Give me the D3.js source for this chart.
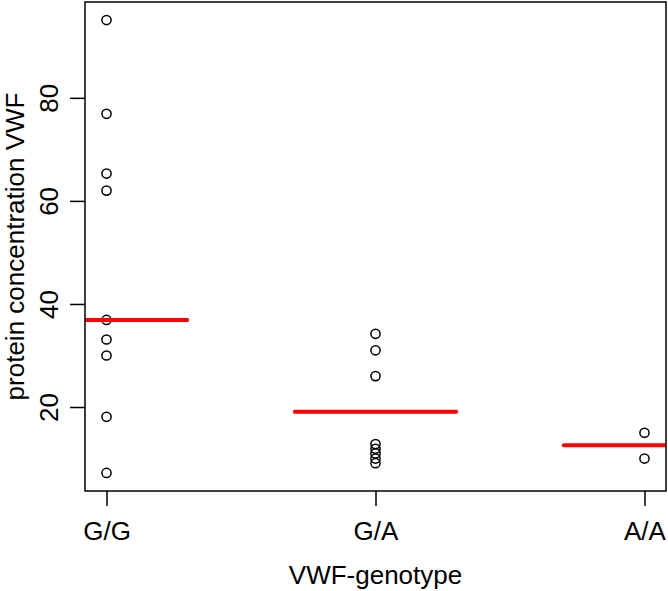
<!DOCTYPE html>
<html>
<head>
<meta charset="utf-8">
<script src="https://cdn.jsdelivr.net/npm/d3@7"></script>
<style>
  html, body { margin: 0; padding: 0; background: #fff; }
  svg { display: block; }
  text { font-family: "Liberation Sans", Arial, sans-serif; fill: #000; }
</style>
</head>
<body>
<svg id="chart" width="668" height="591"></svg>
<script>
// Data
const categories = ["G/G", "G/A", "A/A"];
const ggValues = [95.1, 76.9, 65.3, 62.0, 36.9, 33.1, 30.0, 18.1, 7.2];
const gaValues = [34.2, 31.0, 26.0, 12.8, 11.9, 11.0, 10.0, 9.1];
const aaValues = [15.0, 10.0];
const groupValues = [ggValues, gaValues, aaValues];
const summaryLines = [36.9, 19.1, 12.6];
const yTicks = [20, 40, 60, 80];

const svg = d3.select("#chart");
const L = 85, R = 666, T = 2, B = 491;
const fontSize = 26;

const x = d3.scaleLinear().domain([0.92, 3.08]).range([L, R]);
const y = d3.scaleLinear().domain([3.7, 98.6]).range([B, T]);

svg.append("defs").append("clipPath").attr("id", "plotclip")
  .append("rect").attr("x", L).attr("y", T).attr("width", R - L).attr("height", B - T);

// Points
const pts = [];
groupValues.forEach((vals, i) => vals.forEach(v => pts.push({ g: i + 1, v })));
svg.append("g").selectAll("circle").data(pts).join("circle")
  .attr("cx", d => x(d.g)).attr("cy", d => y(d.v)).attr("r", 4.6)
  .attr("fill", "none").attr("stroke", "#000").attr("stroke-width", 1.5);

// Red summary lines
svg.append("g").attr("clip-path", "url(#plotclip)")
  .selectAll("line").data(summaryLines).join("line")
  .attr("x1", (d, i) => x(i + 1 - 0.3)).attr("x2", (d, i) => x(i + 1 + 0.3))
  .attr("y1", d => y(d)).attr("y2", d => y(d))
  .attr("stroke", "#ff0000").attr("stroke-width", 4).attr("stroke-linecap", "round");

// Box
svg.append("rect").attr("x", L).attr("y", T).attr("width", R - L).attr("height", B - T)
  .attr("fill", "none").attr("stroke", "#000").attr("stroke-width", 1.5);

// Y axis
const yAxis = d3.axisLeft(y).tickValues(yTicks).tickSize(15).tickPadding(12).tickFormat(d3.format("d"));
const gy = svg.append("g").attr("transform", `translate(${L},0)`).call(yAxis);
gy.select(".domain").remove();
gy.selectAll(".tick line").attr("stroke", "#000").attr("stroke-width", 1.5);
gy.selectAll(".tick text")
  .attr("font-size", fontSize).attr("font-family", null)
  .attr("x", null).attr("dy", null)
  .attr("text-anchor", "middle")
  .attr("transform", "translate(-27,0) rotate(-90)");

// X axis
const xAxis = d3.axisBottom(x).tickValues([1, 2, 3]).tickSize(15).tickPadding(14)
  .tickFormat(d => categories[d - 1]);
const gx = svg.append("g").attr("transform", `translate(0,${B})`).call(xAxis);
gx.select(".domain").remove();
gx.selectAll(".tick line").attr("stroke", "#000").attr("stroke-width", 1.5);
gx.selectAll(".tick text").attr("font-size", fontSize).attr("font-family", null)
  .attr("y", 49).attr("dy", null);

// Axis titles
svg.append("text").attr("x", (L + R) / 2).attr("y", 584)
  .attr("text-anchor", "middle").attr("font-size", fontSize).text("VWF-genotype");
svg.append("text").attr("transform", `translate(24,${(T + B) / 2}) rotate(-90)`)
  .attr("text-anchor", "middle").attr("font-size", fontSize).text("protein concentration VWF");
</script>
</body>
</html>
